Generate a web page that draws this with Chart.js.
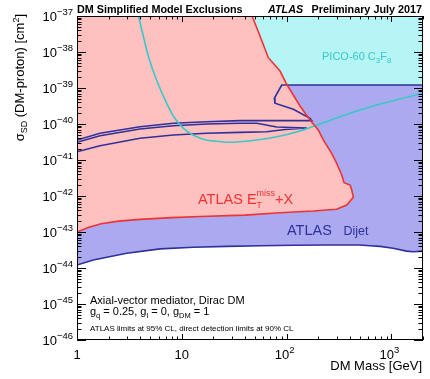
<!DOCTYPE html>
<html>
<head>
<meta charset="utf-8">
<script src="https://cdn.jsdelivr.net/npm/chart.js@4/dist/chart.umd.min.js"></script>
<style>
  html, body { margin: 0; padding: 0; background: #fff; }
  #wrap { width: 430px; height: 379px; position: relative; }
</style>
</head>
<body>
<div id="wrap"><canvas id="c"></canvas></div>
<script>
// ---------- Data: DM mass [GeV] vs spin-dependent cross-section [cm^2] ----------
// ATLAS MET+X exclusion contour (lower edge left->right, then up to the top)
const metxMass = [1, 1.3, 1.7, 2.5, 4, 8, 15, 40, 86.5, 180, 300, 374, 433, 418, 403, 353, 335.5, 300.6, 269, 224, 200.5, 167, 134.2, 100.2, 86.5, 66.9, 55.7, 46.8];
const metxXsec = [1.0e-43, 1.35e-43, 1.7e-43, 2.0e-43, 2.24e-43, 2.51e-43, 2.69e-43, 2.95e-43, 3.44e-43, 3.83e-43, 4.28e-43, 5.62e-43, 9.2e-43, 1.47e-42, 2.02e-42, 2.34e-42, 3.83e-42, 8.09e-42, 1.53e-41, 3.6e-41, 6.81e-41, 1.29e-40, 3.16e-40, 1.27e-39, 2.96e-39, 6.95e-39, 2.78e-38, 1.0e-37];

// ATLAS dijet: upper boundary (right edge -> kink -> long arm to the left edge)
const dijetTopMass = [2000, 89.7, 76.4, 77.4, 115.9, 167, 173.8, 35.9, 17.3, 8.3, 3.99, 1.658, 1];
const dijetTopXsec = [1.21e-39, 1.21e-39, 5.18e-40, 3.76e-40, 2.56e-40, 1.44e-40, 1.24e-40, 1.24e-40, 1.16e-40, 1.05e-40, 8.41e-41, 5.52e-41, 3.6e-41];
// ATLAS dijet: lower boundary
const dijetLowMass = [1, 1.43, 2.98, 6.2, 12.9, 26.8, 55.7, 116, 241, 500, 625, 778, 1036, 1394, 1612, 2000];
const dijetLowXsec = [1.21e-44, 1.66e-44, 2.57e-44, 3.39e-44, 3.76e-44, 3.98e-44, 4.17e-44, 4.27e-44, 4.37e-44, 4.37e-44, 4.17e-44, 3.98e-44, 3.55e-44, 2.95e-44, 2.82e-44, 2.95e-44];
// ATLAS dijet: thin island inside the MET+X region
const dijetIslandMass = [1, 1.658, 3.99, 8.3, 17.3, 35.9, 51.9, 80.5, 155.6, 96.6, 64.6, 35.9, 17.3, 8.3, 3.99, 1.658, 1];
const dijetIslandXsec = [3.1e-41, 4.73e-41, 7.26e-41, 8.97e-41, 1.0e-40, 1.05e-40, 1.05e-40, 8.26e-41, 7.74e-41, 7.03e-41, 6.11e-41, 5.87e-41, 5.52e-41, 4.94e-41, 4.01e-41, 2.49e-41, 1.70e-41];

// PICO-60 C3F8 limit
const picoMass = [3.86, 4.29, 4.79, 5.55, 6.66, 8.29, 11.1, 16.0, 24.9, 33.4, 51.9, 80.5, 134, 323, 672, 2000];
const picoXsec = [1e-37, 2.78e-38, 7.74e-39, 2.15e-39, 6.0e-40, 1.67e-40, 6.4e-41, 3.76e-41, 3.16e-41, 3.16e-41, 3.6e-41, 4.44e-41, 6.4e-41, 1.6e-40, 3.16e-40, 7.13e-40];

// Axis ticks and their labels ([base, exponent])
const massTicks = [1, 10, 100, 1000];
const massTickLabels = [['1', ''], ['10', ''], ['10', '2'], ['10', '3']];
const xsecTicks = [1e-37, 1e-38, 1e-39, 1e-40, 1e-41, 1e-42, 1e-43, 1e-44, 1e-45, 1e-46];
const xsecTickLabels = [['10', '\u221237'], ['10', '\u221238'], ['10', '\u221239'], ['10', '\u221240'], ['10', '\u221241'],
                        ['10', '\u221242'], ['10', '\u221243'], ['10', '\u221244'], ['10', '\u221245'], ['10', '\u221246']];

const pts = (xs, ys) => xs.map((x, i) => ({ x, y: ys[i] }));

const FONT = '"Liberation Sans", Arial, Helvetica, sans-serif';
const RED = '#f03232', BLUE = '#30309a', CYAN = '#38c8c8';

// draw a run of text pieces: [text, size, dy, fontStyle, noAdvance]
function rich(ctx, x, y, parts, align) {
  const widths = parts.map(p => {
    ctx.font = `${p[3] || ''} ${p[1]}px ${FONT}`;
    return p[4] ? 0 : ctx.measureText(p[0]).width;
  });
  const total = widths.reduce((a, b) => a + b, 0);
  let cx = align === 'right' ? x - total : align === 'center' ? x - total / 2 : x;
  ctx.textAlign = 'left';
  ctx.textBaseline = 'alphabetic';
  parts.forEach((p, i) => {
    ctx.font = `${p[3] || ''} ${p[1]}px ${FONT}`;
    ctx.fillText(p[0], cx, y + (p[2] || 0));
    cx += widths[i];
  });
}

// ---------- Frame, inward ticks and all the text ----------
const frame = {
  id: 'frame',
  afterDatasetsDraw(chart) {
    const ctx = chart.ctx, xs = chart.scales.x, ys = chart.scales.y;
    const { left, right, top, bottom } = chart.chartArea;
    ctx.save();
    ctx.strokeStyle = '#000';
    ctx.lineWidth = 1;
    ctx.beginPath();
    // x ticks: decades long, 2..9 short
    for (let d = 1; d <= 1000; d *= 10) {
      for (let k = 1; k <= 9; k++) {
        const v = k * d;
        if (v > 2000) break;
        const px = Math.round(xs.getPixelForValue(v)) + 0.5;
        const len = k === 1 ? 6 : 3.5;
        ctx.moveTo(px, bottom); ctx.lineTo(px, bottom - len);
        ctx.moveTo(px, top); ctx.lineTo(px, top + len);
      }
    }
    // y ticks
    for (let e = -46; e <= -37; e++) {
      for (let k = 1; k <= 9; k++) {
        if (e === -37 && k > 1) break;
        const py = Math.round(ys.getPixelForValue(k * Math.pow(10, e))) + 0.5;
        const len = k === 1 ? 9 : 4.5;
        ctx.moveTo(left, py); ctx.lineTo(left + len, py);
        ctx.moveTo(right, py); ctx.lineTo(right - len, py);
      }
    }
    ctx.stroke();
    ctx.strokeRect(left + 0.5, top + 0.5, right - left - 1, bottom - top - 1);
    ctx.restore();
  },
  afterDraw(chart) {
    const ctx = chart.ctx, xs = chart.scales.x, ys = chart.scales.y;
    const { right } = chart.chartArea;
    ctx.save();
    ctx.fillStyle = '#000';

    // tick labels
    massTicks.forEach((v, i) => {
      const [b, e] = massTickLabels[i];
      const px = xs.getPixelForValue(v) - (e ? 2 : 0);
      rich(ctx, px, 358.5, e ? [[b, 13], [e, 9.5, -6]] : [[b, 13]], 'center');
    });
    xsecTicks.forEach((v, i) => {
      const [b, e] = xsecTickLabels[i];
      const py = ys.getPixelForValue(v);
      rich(ctx, 73, py + 5, [[b, 13], [e, 9.5, -6]], 'right');
    });

    // axis titles
    rich(ctx, right - 1, 370, [['DM Mass [GeV]', 13]], 'right');
    ctx.save();
    ctx.translate(24, 14);
    ctx.rotate(-Math.PI / 2);
    rich(ctx, 0, 0, [['\u03c3', 13], ['SD', 9, 3], [' (DM-proton) [cm', 13], ['2', 9, -5], [']', 13]], 'right');
    ctx.restore();

    // header
    rich(ctx, 77, 12.5, [['DM Simplified Model Exclusions', 10.8, 0, 'bold']]);
    rich(ctx, 268, 12.5, [['ATLAS', 10.8, 0, 'italic bold']]);
    rich(ctx, 422, 12.5, [['Preliminary July 2017', 10.8, 0, 'bold']], 'right');

    // curve labels
    ctx.fillStyle = CYAN;
    rich(ctx, 322, 60, [['PICO-60 C', 11], ['3', 8, 3], ['F', 11], ['8', 8, 3]]);
    ctx.fillStyle = RED;
    rich(ctx, 198, 203.5, [['ATLAS E', 14.5], ['T', 8.5, 4, '', true], ['miss', 9, -7.5], ['+X', 14.5]]);
    ctx.fillStyle = BLUE;
    rich(ctx, 287, 235, [['ATLAS', 14.5]]);
    rich(ctx, 343.5, 235, [['Dijet', 12.5]]);

    // model annotation
    ctx.fillStyle = '#000';
    rich(ctx, 90, 303.5, [['Axial-vector mediator, Dirac DM', 11]]);
    rich(ctx, 90, 315, [['g', 11], ['q', 7.5, 2.5], [' = 0.25, g', 11], ['l', 7.5, 2.5], [' = 0, g', 11], ['DM', 7.5, 2.5], [' = 1', 11]]);
    rich(ctx, 90, 331, [['ATLAS limits at 95% CL, direct detection limits at 90% CL', 8]]);
    ctx.restore();
  }
};

const line = (data, color, order, extra) => Object.assign({
  data, showLine: true, fill: false, borderColor: color, borderWidth: 1.6,
  pointRadius: 0, order
}, extra || {});

new Chart(document.getElementById('c'), {
  type: 'scatter',
  data: {
    datasets: [
      // filled regions, bottom layer first
      { data: pts(picoMass, picoXsec), showLine: true, fill: 'end', backgroundColor: '#b6f5f5',
        borderWidth: 0, pointRadius: 0, tension: 0.25, order: 10 },
      { data: pts(dijetTopMass.concat(dijetLowMass), dijetTopXsec.concat(dijetLowXsec)), showLine: true,
        fill: 'shape', backgroundColor: '#abaaf0', borderWidth: 0, pointRadius: 0, order: 9 },
      { data: pts(metxMass.concat([1]), metxXsec.concat([1e-37])), showLine: true,
        fill: 'shape', backgroundColor: '#ffc0c0', borderWidth: 0, pointRadius: 0, order: 8 },
      // contour lines
      line(pts(dijetTopMass, dijetTopXsec), BLUE, 4),
      line(pts(dijetLowMass, dijetLowXsec), BLUE, 4),
      line(pts(dijetIslandMass, dijetIslandXsec), BLUE, 4),
      line(pts(picoMass, picoXsec), CYAN, 3, { tension: 0.25 }),
      line(pts(metxMass, metxXsec), RED, 2)
    ]
  },
  options: {
    responsive: true,
    maintainAspectRatio: false,
    animation: false,
    layout: { padding: { left: 77, top: 16, right: 7, bottom: 39 } },
    plugins: { legend: { display: false }, tooltip: { enabled: false } },
    elements: { line: { tension: 0 } },
    scales: {
      x: { type: 'logarithmic', min: 1, max: 2000, display: false },
      y: { type: 'logarithmic', min: 1e-46, max: 1e-37, display: false }
    }
  },
  plugins: [frame]
});
</script>
</body>
</html>
